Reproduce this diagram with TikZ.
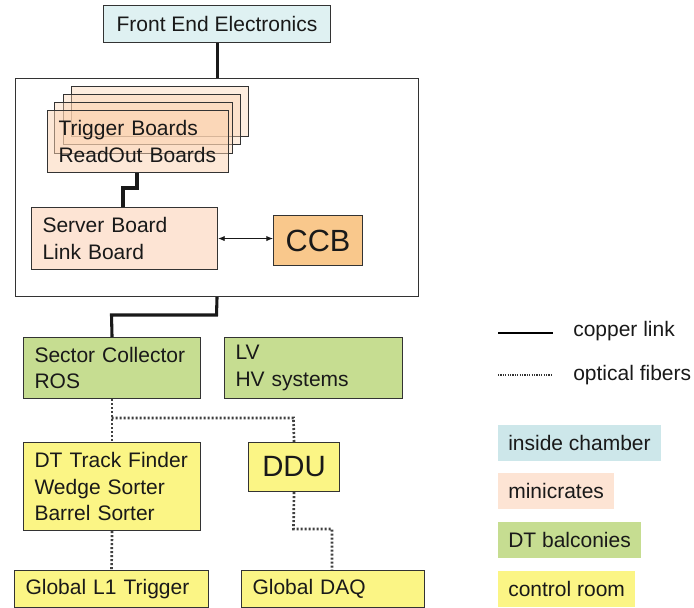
\documentclass[tikz,border=0pt]{standalone}
\usepackage{fontspec}
\setmainfont{Liberation Sans}
\usetikzlibrary{arrows.meta}
\definecolor{chamber}{HTML}{DFF1F2}
\definecolor{chamberlg}{HTML}{CDE7EA}
\definecolor{minicrate}{HTML}{FBD2B0}
\definecolor{minicratelg}{HTML}{FDE4D4}
\definecolor{ccbfill}{HTML}{F9C88C}
\definecolor{balcony}{HTML}{C6DD91}
\definecolor{control}{HTML}{FBF585}
\definecolor{boxline}{HTML}{333333}
\begin{document}
\begin{tikzpicture}[x=0.75pt,y=-0.75pt,
  every node/.style={font=\fontsize{15.75}{20}\selectfont, text=black!90},
  frame/.style={draw=boxline, line width=0.8pt, anchor=north west, inner sep=0pt},
  cbox/.code 2 args={\pgfmathsetmacro\bw{#1*0.75}\pgfmathsetmacro\bh{#2*0.75}%
    \edef\tmp{\noexpand\tikzset{frame, minimum width=\bw pt, minimum height=\bh pt}}\tmp},
  lbox/.code 2 args={\pgfmathsetmacro\tw{(#1-22)*0.75}\pgfmathsetmacro\bh{#2*0.75}%
    \edef\tmp{\noexpand\tikzset{frame, align=left, inner xsep=8.25pt, inner ysep=0pt, text width=\tw pt, minimum height=\bh pt}}\tmp},
  legsw/.style={anchor=north west, inner xsep=7.5pt, inner ysep=0pt, minimum height=27pt},
  copper/.style={draw=black!90, line width=2.3pt},
  fiber/.style={draw=black!75, line width=2pt, dash pattern=on 1.5pt off 1.5pt},
  lgcopper/.style={draw=black, line width=1.6pt},
  lgfiber/.style={draw=black!80, line width=0.9pt, dash pattern=on 0.9pt off 0.9pt},
  dbl/.style={draw=black!90, line width=0.7pt, {Latex[length=5pt,width=4pt]}-{Latex[length=5pt,width=4pt]}}
]
\useasboundingbox (0,0) rectangle (694,608);

% Front end electronics
\node[cbox={227}{37}, fill=chamber] (fee) at (103,5) {Front End Electronics};

% big chamber frame
\node[cbox={403}{218}] (big) at (15,78) {};

% stacked boards
\node[cbox={177}{50}, fill=minicrate, fill opacity=0.4] (b3) at (71,86) {};
\node[cbox={177}{50}, fill=minicrate, fill opacity=0.4] (b2) at (63,94) {};
\node[cbox={178}{51}, fill=minicrate, fill opacity=0.4] (b1) at (54,102) {};
\node[lbox={181}{62}, fill=minicrate, fill opacity=0.5, text opacity=1] (rob) at (47,110) {Trigger Boards\\ReadOut Boards};

% server board and CCB
\node[lbox={186}{62}, fill=minicratelg] (srv) at (31,207) {Server Board\\Link Board};
\node[cbox={89}{50}, fill=ccbfill, font=\fontsize{23}{26}\selectfont] (ccb) at (273,215) {CCB};

% balconies
\node[lbox={177}{61}, fill=balcony] (sc) at (23,337) {Sector Collector\\ROS};
\node[lbox={178}{61}, fill=balcony] (lv) at (224,337) {LV\\HV systems};

% control room
\node[lbox={177}{88}, fill=control] (dt) at (23,442) {DT Track Finder\\Wedge Sorter\\Barrel Sorter};
\node[cbox={91}{49}, fill=control, font=\fontsize{22}{26}\selectfont] (ddu) at (248,442) {DDU};
\node[lbox={194}{37}, fill=control] (l1) at (14,570) {Global L1 Trigger};
\node[lbox={183}{37}, fill=control] (daq) at (241,570) {Global DAQ};

% junction coordinates
\coordinate (j1) at (137,188);
\coordinate (j2) at (123,188);
\coordinate (j3) at (216.5,315);
\coordinate (j4) at (111.5,315);
\coordinate (j5) at (111.5,418);
\coordinate (j6) at (293.5,418);
\coordinate (j7) at (293.5,529);
\coordinate (j8) at (332,529);

% copper links
\draw[copper] (fee.south) -- (big.north);
\draw[copper] (rob.south -| j1) -- (j1) -- (j2) -- (srv.north -| j2);
\draw[copper] (big.south) -- (j3) -- (j4) -- (sc.north);
\draw[dbl] (srv.east) -- (srv.east -| ccb.west);

% optical fibers
\draw[fiber] (sc.south) -- (dt.north);
\draw[fiber] (j5) -- (j6) -- (ddu.north);
\draw[fiber] (dt.south) -- (l1.north);
\draw[fiber] (ddu.south) -- (j7) -- (j8) -- (daq.north -| j8);

% legend
\coordinate (lc1) at (498,333);
\coordinate (lc2) at (553,333);
\coordinate (lf1) at (498,375);
\coordinate (lf2) at (553,375);
\draw[lgcopper] (lc1) -- (lc2);
\draw[lgfiber] (lf1) -- (lf2);
\node[anchor=west, inner sep=0pt] (lgc) at (573,331) {copper link};
\node[anchor=west, inner sep=0pt] (lgf) at (573,375) {optical fibers};
\node[legsw, fill=chamberlg] (lg1) at (498,425) {inside chamber};
\node[legsw, fill=minicratelg] (lg2) at (498,473) {minicrates};
\node[legsw, fill=balcony] (lg3) at (498,522) {DT balconies};
\node[legsw, fill=control] (lg4) at (498,571) {control room};
\end{tikzpicture}
\end{document}
